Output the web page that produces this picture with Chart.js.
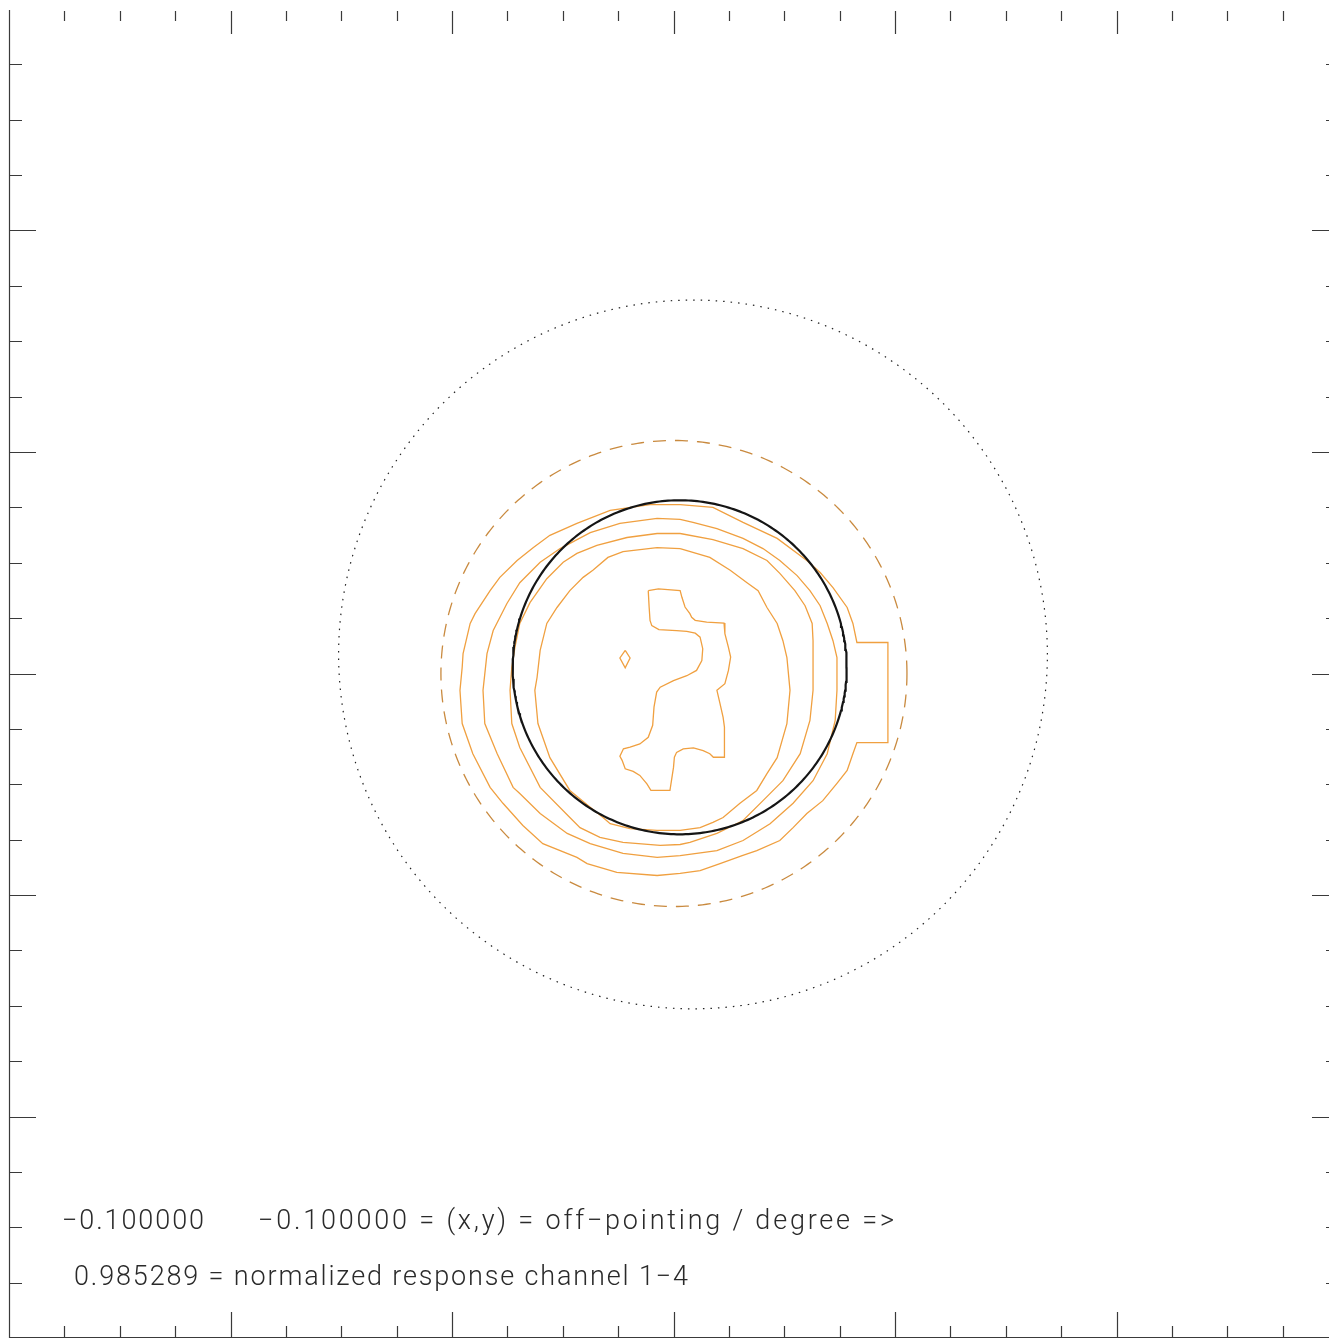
<!DOCTYPE html>
<html>
<head>
<meta charset="utf-8">
<title>Off-pointing response</title>
<script src="https://cdn.jsdelivr.net/npm/chart.js@4/dist/chart.umd.min.js"></script>
<style>
  html, body { margin: 0; padding: 0; background: #fff; overflow: hidden; }
  #wrap { position: relative; width: 1329px; height: 1339px; overflow: hidden; }
  #plot { position: absolute; left: 0; top: 0; }
  .note { position: absolute; font: 300 27px Roboto, sans-serif; color: #2a2a2a; white-space: pre; line-height: 27px; }
</style>
</head>
<body>
<div id="wrap">
  <canvas id="plot" width="1340" height="1340"></canvas>
  <div class="note" id="offX" style="left:62px; top:1207px">−0.100000</div>
  <div class="note" id="offY" style="left:258px; top:1207px">−0.100000 = (x,y) = off−pointing / degree =&gt;</div>
  <div class="note" id="resp" style="left:74px; top:1263px">0.985289 = normalized response channel 1−4</div>
</div>
<script>
// axis range in degrees, inward ticks every 0.125 with a long one every 0.5
const axisMin = -1.5;
const axisMax = 1.5;
const minorStep = 0.125;
const minorPerMajor = 4;

// beam outlines: solid reference beam, dashed half-power ring, dotted outer ring
const ringCentreX = [0.014, 0.001, 0.044];
const ringCentreY = [0.014, 0.000, 0.043];
const ringRadius = [0.377, 0.526, 0.800];

// response contours, outermost first
const contour1 = [[0.015,0.381],[-0.053,0.381],[-0.143,0.368],[-0.218,0.339],[-0.279,0.312],[-0.317,0.284],[-0.353,0.255],[-0.392,0.217],[-0.414,0.187],[-0.448,0.135],[-0.459,0.113],[-0.475,0.045],[-0.477,0.014],[-0.482,-0.038],[-0.477,-0.113],[-0.453,-0.181],[-0.414,-0.257],[-0.385,-0.293],[-0.340,-0.343],[-0.295,-0.384],[-0.218,-0.415],[-0.195,-0.429],[-0.128,-0.449],[-0.037,-0.456],[0.015,-0.451],[0.060,-0.445],[0.105,-0.429],[0.155,-0.411],[0.188,-0.400],[0.240,-0.377],[0.270,-0.348],[0.301,-0.316],[0.337,-0.287],[0.369,-0.248],[0.392,-0.219],[0.405,-0.181],[0.414,-0.156],[0.484,-0.156],[0.484,0.070],[0.414,0.070],[0.405,0.113],[0.392,0.149],[0.360,0.194],[0.331,0.228],[0.301,0.255],[0.234,0.305],[0.157,0.341],[0.089,0.375],[0.015,0.381]];
const contour2 = [[0.015,0.348],[-0.037,0.350],[-0.121,0.339],[-0.188,0.318],[-0.256,0.282],[-0.301,0.251],[-0.347,0.205],[-0.376,0.158],[-0.407,0.097],[-0.421,0.045],[-0.430,-0.038],[-0.426,-0.113],[-0.398,-0.181],[-0.362,-0.257],[-0.347,-0.271],[-0.301,-0.316],[-0.240,-0.361],[-0.188,-0.384],[-0.114,-0.406],[-0.037,-0.415],[0.015,-0.411],[0.098,-0.400],[0.157,-0.377],[0.218,-0.339],[0.270,-0.293],[0.315,-0.242],[0.347,-0.181],[0.365,-0.106],[0.369,-0.038],[0.369,0.036],[0.360,0.074],[0.347,0.113],[0.331,0.153],[0.308,0.187],[0.279,0.221],[0.240,0.255],[0.202,0.282],[0.157,0.305],[0.098,0.327],[0.044,0.341],[0.015,0.348]];
const contour3 = [[0.015,0.316],[-0.037,0.316],[-0.105,0.307],[-0.173,0.289],[-0.218,0.271],[-0.249,0.251],[-0.286,0.214],[-0.324,0.160],[-0.347,0.113],[-0.358,0.059],[-0.365,0.014],[-0.369,-0.038],[-0.365,-0.113],[-0.347,-0.167],[-0.301,-0.257],[-0.234,-0.325],[-0.211,-0.348],[-0.166,-0.370],[-0.114,-0.381],[-0.030,-0.388],[0.015,-0.386],[0.037,-0.381],[0.098,-0.361],[0.157,-0.332],[0.202,-0.287],[0.247,-0.242],[0.286,-0.181],[0.308,-0.106],[0.315,-0.038],[0.315,0.074],[0.313,0.113],[0.297,0.153],[0.274,0.187],[0.240,0.226],[0.211,0.255],[0.157,0.282],[0.089,0.302],[0.015,0.316]];
const contour4 = [[0.015,0.282],[-0.037,0.284],[-0.114,0.275],[-0.148,0.262],[-0.182,0.233],[-0.204,0.217],[-0.234,0.187],[-0.263,0.149],[-0.286,0.113],[-0.301,0.052],[-0.308,-0.009],[-0.313,-0.038],[-0.306,-0.113],[-0.279,-0.190],[-0.234,-0.264],[-0.188,-0.302],[-0.159,-0.325],[-0.143,-0.339],[-0.098,-0.350],[-0.037,-0.354],[0.015,-0.354],[0.060,-0.348],[0.089,-0.336],[0.112,-0.325],[0.150,-0.293],[0.188,-0.264],[0.211,-0.226],[0.234,-0.190],[0.256,-0.113],[0.263,-0.038],[0.256,0.036],[0.247,0.074],[0.234,0.113],[0.211,0.149],[0.191,0.187],[0.166,0.205],[0.128,0.233],[0.082,0.262],[0.015,0.282]];
const contour5 = [[-0.057,0.187],[-0.034,0.191],[0.015,0.187],[0.019,0.172],[0.026,0.150],[0.037,0.135],[0.041,0.127],[0.049,0.120],[0.075,0.116],[0.114,0.114],[0.116,0.090],[0.124,0.059],[0.129,0.037],[0.124,0.007],[0.116,-0.023],[0.098,-0.038],[0.105,-0.068],[0.112,-0.099],[0.115,-0.121],[0.115,-0.189],[0.090,-0.189],[0.082,-0.181],[0.067,-0.174],[0.045,-0.168],[0.022,-0.170],[0.007,-0.178],[0.002,-0.189],[0.000,-0.212],[-0.008,-0.264],[-0.051,-0.264],[-0.060,-0.249],[-0.076,-0.230],[-0.091,-0.221],[-0.109,-0.215],[-0.116,-0.196],[-0.121,-0.187],[-0.113,-0.170],[-0.098,-0.166],[-0.076,-0.159],[-0.057,-0.144],[-0.047,-0.117],[-0.044,-0.076],[-0.038,-0.042],[-0.030,-0.031],[0.000,-0.016],[0.030,-0.005],[0.052,0.007],[0.064,0.029],[0.066,0.056],[0.060,0.082],[0.049,0.091],[0.030,0.095],[0.007,0.097],[-0.033,0.099],[-0.049,0.108],[-0.053,0.120],[-0.055,0.150],[-0.057,0.187]];
const contour6 = [[-0.109,0.052],[-0.098,0.035],[-0.109,0.013],[-0.121,0.035],[-0.109,0.052]];

const contours = [contour1, contour2, contour3, contour4, contour5, contour6];

function toPoints(pairs) {
  return pairs.map(p => ({ x: p[0], y: p[1] }));
}

function ringPoints(i) {
  const pts = [];
  for (let k = 0; k <= 360; k++) {
    const t = k * Math.PI / 180;
    pts.push({ x: ringCentreX[i] + ringRadius[i] * Math.cos(t), y: ringCentreY[i] + ringRadius[i] * Math.sin(t) });
  }
  return pts;
}

const datasets = [];
datasets.push({ data: ringPoints(0), borderColor: '#151515', borderWidth: 2.2 });
contours.forEach(c => {
  datasets.push({ data: toPoints(c), borderColor: '#f0a040', borderWidth: 1.3 });
});
datasets.push({ data: ringPoints(1), borderColor: '#c98a3f', borderWidth: 1.3, borderDash: [13, 9] });
datasets.push({ data: ringPoints(2), borderColor: '#222', borderWidth: 1.2, borderDash: [1.5, 6] });
datasets.forEach(d => { d.showLine = true; d.pointRadius = 0; d.fill = false; });

// IDL-style frame: ticks pointing into the plot on every side
const frameTicks = {
  id: 'frameTicks',
  afterDatasetsDraw(chart) {
    const { ctx, chartArea: a, scales: { x, y } } = chart;
    ctx.save();
    ctx.strokeStyle = '#3a3a3a';
    ctx.lineWidth = 1.2;
    ctx.beginPath();
    ctx.moveTo(a.left + 0.5, a.top + 1);
    ctx.lineTo(a.left + 0.5, a.bottom - 0.5);
    ctx.lineTo(a.right, a.bottom - 0.5);
    ctx.lineTo(a.right, a.top);
    const n = Math.round((axisMax - axisMin) / minorStep);
    for (let i = 1; i < n; i++) {
      const v = axisMin + i * minorStep;
      const major = i % minorPerMajor === 0;
      const len = major ? 26 : 12;
      const px = Math.round(x.getPixelForValue(v)) + 0.5;
      const py = Math.round(y.getPixelForValue(v)) + 0.5;
      ctx.moveTo(px, a.bottom); ctx.lineTo(px, a.bottom - len);
      ctx.moveTo(px, a.top + 2); ctx.lineTo(px, a.top + 2 + (major ? 23 : 10));
      ctx.moveTo(a.left, py); ctx.lineTo(a.left + len + 1, py);
      ctx.moveTo(a.right, py); ctx.lineTo(a.right - len, py);
    }
    ctx.stroke();
    ctx.restore();
  }
};

new Chart(document.getElementById('plot'), {
  type: 'scatter',
  data: { datasets },
  options: {
    responsive: false,
    animation: false,
    devicePixelRatio: 1,
    layout: { padding: { left: 9, top: 9, right: 2, bottom: 2 } },
    plugins: { legend: { display: false }, tooltip: { enabled: false } },
    scales: {
      x: { type: 'linear', min: axisMin, max: axisMax, display: false },
      y: { type: 'linear', min: axisMin, max: axisMax, display: false }
    },
    elements: { line: { tension: 0 } }
  },
  plugins: [frameTicks]
});

// stretch the annotation lines to the wide spacing of the plotting font
function fitText(id, width) {
  const el = document.getElementById(id);
  el.style.letterSpacing = '0px';
  const n = el.textContent.length;
  const w = el.getBoundingClientRect().width;
  el.style.letterSpacing = ((width - w) / (n - 1)) + 'px';
}
function fitAll() {
  fitText('offX', 142);
  fitText('offY', 636);
  fitText('resp', 614);
}
fitAll();
if (document.fonts && document.fonts.ready) document.fonts.ready.then(fitAll);
</script>
</body>
</html>
